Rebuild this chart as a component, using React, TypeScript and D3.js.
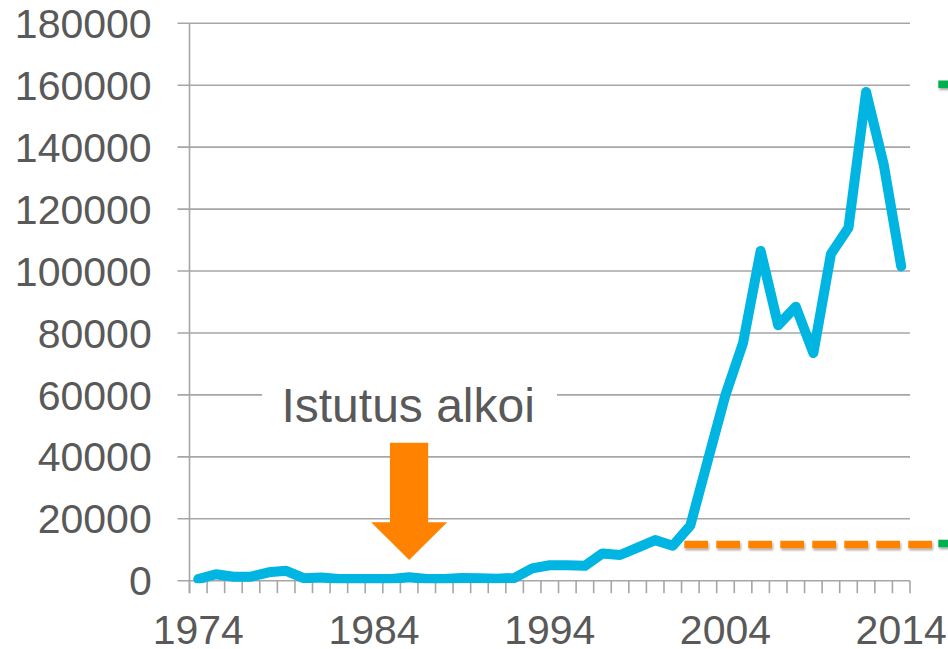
import React from "react";
import * as d3 from "d3";

const years: number[] = Array.from({ length: 41 }, (_, i) => 1974 + i);
const values: number[] = [
  500, 2100, 1300, 1300, 2700, 3200, 800, 1000, 550, 550,
  550, 550, 1100, 550, 550, 900, 800, 650, 900, 4000,
  5000, 5000, 4800, 8800, 8300, 10700, 13100, 11300, 17800, 39000,
  60000, 76800, 106500, 82500, 88500, 73500, 105500, 114000, 157800, 134500,
  101500,
];
const yTicks: number[] = [0, 20000, 40000, 60000, 80000, 100000, 120000, 140000, 160000, 180000];
const xLabels: number[] = [1974, 1984, 1994, 2004, 2014];
const annotationText = "Istutus alkoi";
const annotationYear = 1986;
const orangeLevel = 11700;
const orangeStartYear = 2002;
const greenLevels: number[] = [160000, 11700];

const W = 948;
const H = 649;
const left = 189.5;
const right = 910;
const top = 23.3;
const bottom = 580.7;
const textColor = "#595959";
const gridColor = "#A6A6A6";
const lineColor = "#00B5E2";
const orange = "#FF8200";
const green = "#00B050";
const font = "'Liberation Sans', Arial, sans-serif";

export default function App() {
  const x = d3.scaleBand<number>().domain(years).range([left, right]);
  const cx = (yr: number) => (x(yr) as number) + x.bandwidth() / 2;
  const y = d3.scaleLinear().domain([0, 180000]).range([bottom, top]);
  const line = d3
    .line<number>()
    .x((_, i) => cx(years[i]))
    .y((v) => y(v));
  const pathD = line(values) || "";

  const boundaries = years.map((yr) => x(yr) as number).concat([right]);
  const ax = cx(annotationYear);
  const oy = y(orangeLevel);
  const ox0 = cx(orangeStartYear) - 6;

  return (
    <svg
      width={W}
      height={H}
      style={{ position: "absolute", left: 0, top: 0, background: "#fff" }}
      fontFamily={font}
    >
      <defs>
        <clipPath id="plot">
          <rect x={left} y={0} width={right - left + 10} height={bottom + 2.5} />
        </clipPath>
        <filter id="sh" x="-10%" y="-50%" width="130%" height="250%">
          <feDropShadow dx="1" dy="2" stdDeviation="1.2" floodColor="#000" floodOpacity="0.35" />
        </filter>
      </defs>
      <rect x={0} y={0} width={W} height={H} fill="#fff" />
      {/* gridlines */}
      {yTicks.map((t) => (
        <line key={t} x1={left - 12} x2={right} y1={y(t)} y2={y(t)} stroke={gridColor} strokeWidth={1.6} />
      ))}
      {/* y axis */}
      <line x1={left} x2={left} y1={top} y2={bottom + 12.5} stroke={gridColor} strokeWidth={1.6} />
      {/* x ticks */}
      {boundaries.map((b, i) => (
        <line key={i} x1={b} x2={b} y1={bottom} y2={bottom + 12.5} stroke={gridColor} strokeWidth={1.6} />
      ))}
      {/* y labels */}
      {yTicks.map((t) => (
        <text key={t} x={151.7} y={y(t) + 14.6} textAnchor="end" fontSize={41} fill={textColor}>
          {t}
        </text>
      ))}
      {/* x labels */}
      {xLabels.map((yr) => (
        <text key={yr} x={cx(yr)} y={644} textAnchor="middle" fontSize={41} fill={textColor}>
          {yr}
        </text>
      ))}
      {/* annotation text with white background */}
      <rect x={262} y={372} width={295} height={58} fill="#fff" />
      <text x={ax - 1} y={421.7} textAnchor="middle" fontSize={48} fill={textColor}>
        {annotationText}
      </text>
      {/* data line */}
      <g clipPath="url(#plot)">
        <path d={pathD} fill="none" stroke={lineColor} strokeWidth={10} strokeLinejoin="round" strokeLinecap="round" />
      </g>
      {/* arrow */}
      <path
        d={`M${ax - 19.2},442.7 L${ax + 19},442.7 L${ax + 19},522.3 L${ax + 38},522.3 L${ax},560 L${ax - 38},522.3 L${ax - 19.2},522.3 Z`}
        fill={orange}
      />
      {/* dashed reference lines */}
      <g filter="url(#sh)">
        <line x1={ox0} x2={935} y1={oy} y2={oy} stroke={orange} strokeWidth={7.5} strokeDasharray="23.7 8.3" />
        {greenLevels.map((g) => (
          <line key={g} x1={938.3} x2={960} y1={y(g) - 1} y2={y(g) - 1} stroke={green} strokeWidth={7.5} strokeDasharray="23.7 8.3" />
        ))}
      </g>
    </svg>
  );
}
